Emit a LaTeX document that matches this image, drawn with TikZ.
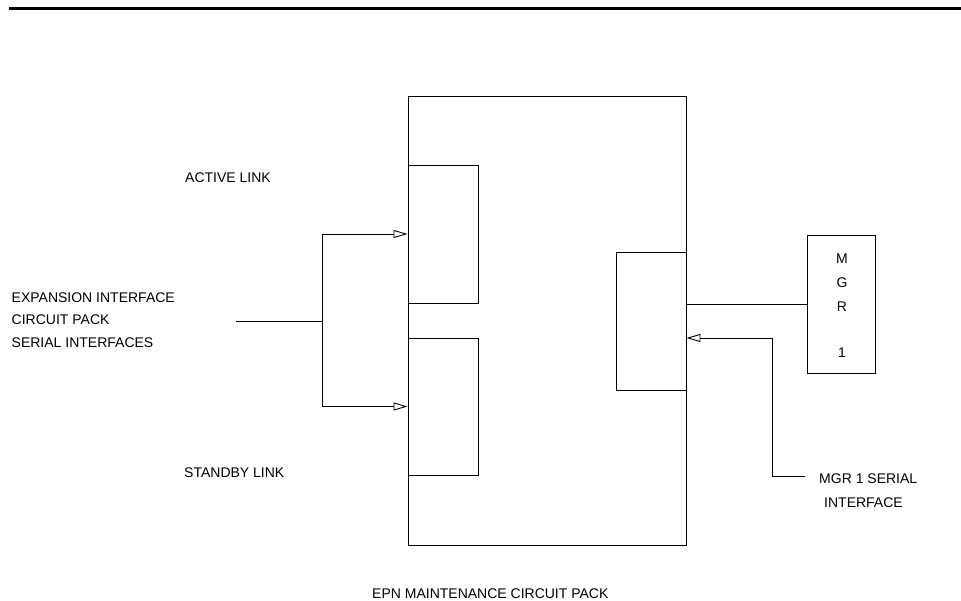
\documentclass[tikz,border=0pt]{standalone}
\usepackage{fontspec}
\setmainfont{Liberation Sans}
\usetikzlibrary{arrows.meta}
\begin{document}
\begin{tikzpicture}[x=1pt,y=-1pt,
  box/.style={draw, line width=0.9pt, inner sep=0pt, minimum width=#1},
  lbl/.style={inner sep=0pt, font=\fontsize{14}{16}\selectfont},
  wire/.style={line width=0.9pt},
  arr/.style={wire, -{Triangle[open, length=14pt, width=8pt]}}]
\useasboundingbox (0,0) rectangle (961,601);
\draw[line width=3pt] (9,9) -- (961,9);
% boxes
\node[box=278, minimum height=449] (main) at (547,320.5) {};
\node[box=70, minimum height=138] (top) at (443,234) {};
\node[box=70, minimum height=137] (bot) at (443,406.5) {};
\node[box=70, minimum height=138] (rin) at (651,321) {};
\node[box=68, minimum height=138] (mgr) at (841,304) {};
% MGR letters
\node[lbl, anchor=base] (m1) at (842,264) {M};
\node[lbl, anchor=base] (m2) at (842,288) {G};
\node[lbl, anchor=base] (m3) at (842,312) {R};
\node[lbl, anchor=base] (m4) at (842,358) {1};
% labels
\node[lbl, anchor=base west] (act) at (185,182.3) {ACTIVE LINK};
\node[lbl, anchor=base west] (stb) at (184,477.7) {STANDBY LINK};
\node[lbl, anchor=base west] (e1) at (11.5,302.7) {EXPANSION INTERFACE};
\node[lbl, anchor=base west] (e2) at (11.5,325) {CIRCUIT PACK};
\node[lbl, anchor=base west] (e3) at (11.5,347.3) {SERIAL INTERFACES};
\node[lbl, anchor=base west] (s1t) at (819,483) {MGR 1 SERIAL};
\node[lbl, anchor=base west] (s2t) at (824,507) {INTERFACE};
\node[lbl, anchor=base west] (epn) at (372,598) {EPN MAINTENANCE CIRCUIT PACK};
% connectors
\coordinate (src) at (236,321);
\coordinate (split) at (322,321);
\draw[wire] (src) -- (split);
\draw[arr] (split) |- (top.west);
\draw[arr] (split) |- (bot.west);
\draw[wire] (main.east |- mgr.west) -- (mgr.west);
\coordinate (sin) at (805,476);
\coordinate (bend) at (772,338);
\draw[arr] (sin) -| (bend) -- (bend -| main.east);
\end{tikzpicture}
\end{document}
